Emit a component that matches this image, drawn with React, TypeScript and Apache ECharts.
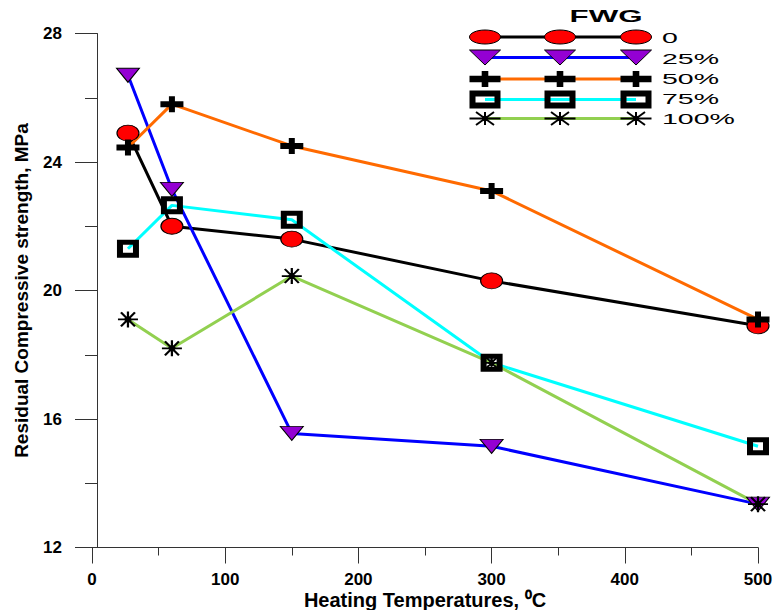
import React, { useEffect, useRef } from "react";
import * as echarts from "echarts";

const temps = [27, 60, 150, 300, 500];
const fwg0 = [24.9, 22.0, 21.6, 20.3, 18.9];
const fwg25 = [26.7, 23.15, 15.55, 15.15, 13.35];
const fwg50 = [24.45, 25.8, 24.5, 23.1, 19.1];
const fwg75 = [21.3, 22.65, 22.2, 17.75, 15.15];
const fwg100 = [19.1, 18.2, 20.45, 17.75, 13.35];
const seriesNames = ["0", "25%", "50%", "75%", "100%"];
const legendTitle = "FWG";
const xName = "Heating Temperatures, \u2070C";
const yName = "Residual Compressive strength, MPa";

const FONT = "'Liberation Sans', Arial, sans-serif";

const ELLIPSE =
  "path://M0,10C0,4.477 4.477,0 10,0C15.523,0 20,4.477 20,10C20,15.523 15.523,20 10,20C4.477,20 0,15.523 0,10Z";
const TRI = "path://M0,0H20L10,14Z";
const CROSS = "path://M8.5,0H14.5V5H23V11H14.5V16H8.5V11H0V5H8.5Z";
const SQUARE = "path://M0,0H22V18H0Z M6,5V13H16V5Z";
const STAR =
  "path://M0,8H20 M10,0V16 M3,1L17,15 M17,1L3,15 M7,8L10,5L13,8L10,11Z";

const styles = [
  { line: "#000000", symbol: ELLIPSE, size: [22, 16], fill: "#ff0000", border: "#000", bw: 1 },
  { line: "#0000ff", symbol: TRI, size: [23, 14], fill: "#9400d3", border: "#000", bw: 1 },
  { line: "#ff6a00", symbol: CROSS, size: [23, 16], fill: "#000000", border: "#000", bw: 0 },
  { line: "#00ffff", symbol: SQUARE, size: [22, 18], fill: "#000000", border: "#000", bw: 0 },
  { line: "#92d050", symbol: STAR, size: [20, 16], fill: "#000000", border: "#000", bw: 2 },
];

const allValues = [fwg0, fwg25, fwg50, fwg75, fwg100];

function legendMarker(kind: number, cx: number, cy: number): any[] {
  if (kind === 0) {
    return [{ type: "ellipse", shape: { cx, cy, rx: 15.5, ry: 7 }, style: { fill: "#ff0000", stroke: "#000", lineWidth: 1 } }];
  }
  if (kind === 1) {
    return [{ type: "polygon", shape: { points: [[cx - 15.5, cy - 7.5], [cx + 15.5, cy - 7.5], [cx, cy + 7.5]] }, style: { fill: "#9400d3", stroke: "#000", lineWidth: 1 } }];
  }
  if (kind === 2) {
    const w = 15.5, h = 8, t = 3.2, v = 3.3;
    return [{
      type: "polygon",
      shape: {
        points: [
          [cx - v, cy - h], [cx + v, cy - h], [cx + v, cy - t], [cx + w, cy - t], [cx + w, cy + t],
          [cx + v, cy + t], [cx + v, cy + h], [cx - v, cy + h], [cx - v, cy + t], [cx - w, cy + t],
          [cx - w, cy - t], [cx - v, cy - t],
        ],
      },
      style: { fill: "#000" },
    }];
  }
  if (kind === 3) {
    return [{ type: "rect", shape: { x: cx - 15.5 + 3, y: cy - 9 + 3, width: 25, height: 12 }, style: { fill: null, stroke: "#000", lineWidth: 6 } }];
  }
  const rx = 15.5, ry = 6.5;
  return [
    { type: "line", shape: { x1: cx - rx, y1: cy, x2: cx + rx, y2: cy }, style: { stroke: "#000", lineWidth: 2 } },
    { type: "line", shape: { x1: cx, y1: cy - ry, x2: cx, y2: cy + ry }, style: { stroke: "#000", lineWidth: 2 } },
    { type: "line", shape: { x1: cx - 9, y1: cy - ry, x2: cx + 9, y2: cy + ry }, style: { stroke: "#000", lineWidth: 2 } },
    { type: "line", shape: { x1: cx + 9, y1: cy - ry, x2: cx - 9, y2: cy + ry }, style: { stroke: "#000", lineWidth: 2 } },
    { type: "circle", shape: { cx, cy, r: 3 }, style: { fill: "#000" } },
  ];
}

function buildLegend(): any[] {
  const rowsY = [37, 57.5, 79, 99.5, 118.5];
  const textY = [37.5, 58.5, 79, 99, 119];
  const xs = [485, 560, 636];
  const els: any[] = [];
  els.push({
    type: "text",
    x: 606,
    y: 16,
    scaleX: 1.84,
    style: { text: legendTitle, font: `bold 17px ${FONT}`, fill: "#000", align: "center", verticalAlign: "middle" },
  });
  seriesNames.forEach((name, i) => {
    const y = rowsY[i];
    els.push({ type: "line", shape: { x1: xs[0], y1: y, x2: xs[2], y2: y }, style: { stroke: styles[i].line, lineWidth: 3 } });
    xs.forEach((x) => legendMarker(i, x, y).forEach((e) => els.push(e)));
    els.push({
      type: "text",
      x: 662,
      y: textY[i],
      scaleX: 1.9,
      style: { text: name, font: `15px ${FONT}`, fill: "#000", align: "left", verticalAlign: "middle" },
    });
  });
  return els;
}

export default function App() {
  const ref = useRef<HTMLDivElement>(null);
  useEffect(() => {
    if (!ref.current) return;
    const chart = echarts.init(ref.current, null, { renderer: "svg" });
    const axisColor = "#333";
    chart.setOption({
      animation: false,
      backgroundColor: "#ffffff",
      textStyle: { fontFamily: FONT },
      grid: { left: 92, right: 15, top: 33.5, bottom: 62.5, containLabel: false, outerBoundsMode: "none" },
      xAxis: {
        type: "value",
        min: 0,
        max: 500,
        interval: 100,
        name: xName,
        nameLocation: "middle",
        nameGap: 42,
        nameMoveOverlap: false,
        nameTextStyle: { fontFamily: FONT, fontWeight: "bold", fontSize: 20, lineHeight: 20, color: "#000", verticalAlign: "top" },
        axisLine: { show: true, lineStyle: { color: axisColor, width: 1 } },
        axisTick: { show: true, length: 16, lineStyle: { color: axisColor } },
        minorTick: { show: true, splitNumber: 2, length: 8, lineStyle: { color: axisColor } },
        splitLine: { show: false },
        minorSplitLine: { show: false },
        axisLabel: { margin: 23, fontFamily: FONT, fontWeight: "bold", fontSize: 17, lineHeight: 17, color: "#000" },
      },
      yAxis: {
        type: "value",
        min: 12,
        max: 28,
        interval: 4,
        offset: -5,
        name: yName,
        nameLocation: "middle",
        nameGap: 66,
        nameMoveOverlap: false,
        nameRotate: 90,
        nameTextStyle: { fontFamily: FONT, fontWeight: "bold", fontSize: 19, color: "#000" },
        axisLine: { show: true, lineStyle: { color: axisColor, width: 1 } },
        axisTick: { show: true, length: 22, lineStyle: { color: axisColor } },
        minorTick: { show: true, splitNumber: 2, length: 12, lineStyle: { color: axisColor } },
        splitLine: { show: false },
        minorSplitLine: { show: false },
        axisLabel: { margin: 35, fontFamily: FONT, fontWeight: "bold", fontSize: 17, color: "#000" },
      },
      series: allValues.map((vals, i) => ({
        name: seriesNames[i],
        type: "line",
        data: temps.map((t, j) => [t, vals[j]]),
        symbol: styles[i].symbol,
        symbolSize: styles[i].size,
        showAllSymbol: true,
        lineStyle: { color: styles[i].line, width: 3 },
        itemStyle: { color: styles[i].fill, borderColor: styles[i].border, borderWidth: styles[i].bw },
        emphasis: { disabled: true },
      })),
      graphic: buildLegend(),
    });
    return () => chart.dispose();
  }, []);
  return <div ref={ref} style={{ position: "fixed", left: 0, top: 0, width: 773, height: 610, background: "#fff" }} />;
}
